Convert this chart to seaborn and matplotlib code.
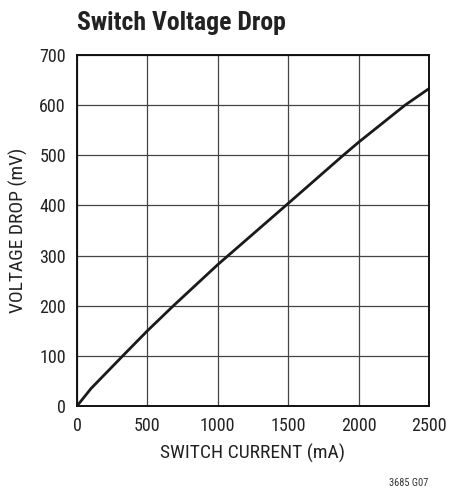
import matplotlib
matplotlib.use("Agg")
import matplotlib.pyplot as plt
import seaborn as sns
import pandas as pd

# Data
current_ma = [0, 100, 325, 500, 685, 1000, 1500, 1891, 2000, 2330, 2500]
drop_mv = [0, 35, 100, 150, 200, 282, 404, 500, 526, 600, 633]
x_ticks = [0, 500, 1000, 1500, 2000, 2500]
y_ticks = [0, 100, 200, 300, 400, 500, 600, 700]

sns.set_theme(style="white")
plt.rcParams['font.family'] = ['Roboto Condensed', 'Archivo Narrow', 'DejaVu Sans']

df = pd.DataFrame({"current": current_ma, "drop": drop_mv})

fig = plt.figure(figsize=(4.49, 4.88), dpi=100)
ax = fig.add_axes([77 / 449, 1 - 406 / 488, (429 - 77) / 449, (406 - 55) / 488])

sns.lineplot(data=df, x="current", y="drop", ax=ax, color="#1a1a1a", linewidth=2.0, zorder=3)

ax.set_xlim(0, 2500)
ax.set_ylim(0, 700)
ax.set_xticks(x_ticks)
ax.set_yticks(y_ticks)
ax.tick_params(axis="both", length=0, labelsize=13, colors="#222222", pad=8)
ax.grid(True, color="#444444", linewidth=0.9)
for s in ax.spines.values():
    s.set_color("#111111")
    s.set_linewidth(1.4)
    s.set_zorder(4)

ax.set_xlabel("SWITCH CURRENT (mA)", fontsize=14, color="#222222", labelpad=6)
ax.set_ylabel("VOLTAGE DROP (mV)", fontsize=14, color="#222222", labelpad=8)

fig.text(77 / 449, 1 - 30 / 488, "Switch Voltage Drop", fontsize=18.5, fontweight="bold",
         color="#222222", ha="left", va="baseline")
fig.text(428 / 449, 1 - 486 / 488, "3685 G07", fontsize=7.5, color="#333333",
         ha="right", va="baseline")

fig.savefig("out.png", dpi=100)
